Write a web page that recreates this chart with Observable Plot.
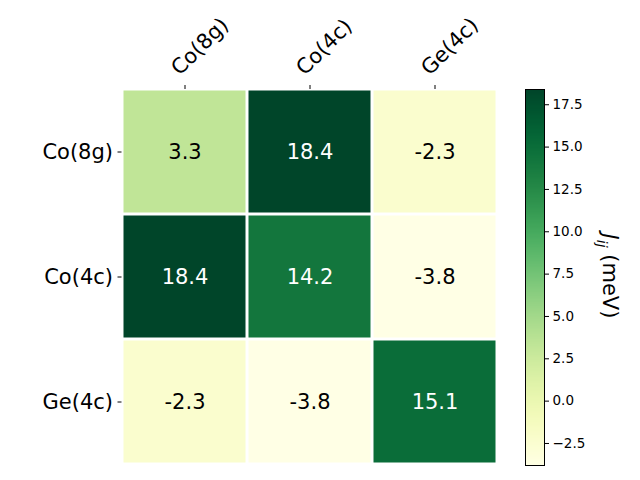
<!DOCTYPE html>
<html>
<head>
<meta charset="utf-8">
<script src="https://cdn.jsdelivr.net/npm/d3@7"></script>
<script src="https://cdn.jsdelivr.net/npm/@observablehq/plot@0.6"></script>
<style>
  html, body { margin: 0; padding: 0; background: white; }
  #wrap { position: relative; width: 640px; height: 480px; font-family: "DejaVu Sans", sans-serif; }
  #wrap svg { position: absolute; left: 0; top: 0; background: transparent; }
  #cblabel { position: absolute; left: 608px; top: 276px; transform: translate(-50%, -50%) rotate(90deg);
    font-size: 21px; white-space: nowrap; color: black; font-family: "DejaVu Sans", sans-serif; }
  #cblabel sub { font-size: 14px; }
</style>
</head>
<body>
<div id="wrap"></div>
<script>
const sites = ["Co(8g)", "Co(4c)", "Ge(4c)"];
const row0 = [3.3, 18.4, -2.3];
const row1 = [18.4, 14.2, -3.8];
const row2 = [-2.3, -3.8, 15.1];
const rows = [row0, row1, row2];
const colorTicks = [-2.5, 0.0, 2.5, 5.0, 7.5, 10.0, 12.5, 15.0, 17.5];

const vmin = d3.min(rows.flat()), vmax = d3.max(rows.flat());
const cells = [];
rows.forEach((r, i) => r.forEach((v, j) => cells.push({row: sites[i], col: sites[j], v})));

const colorScale = {type: "linear", scheme: "YlGn", domain: [vmin, vmax]};

const heat = Plot.plot({
  width: 640, height: 480,
  marginLeft: 121.5, marginRight: 142.5, marginTop: 88, marginBottom: 15,
  style: {fontFamily: "DejaVu Sans, sans-serif", background: "transparent"},
  x: {domain: sites, padding: 0, axis: null},
  y: {domain: sites, padding: 0, axis: null},
  color: colorScale,
  marks: [
    Plot.cell(cells, {x: "col", y: "row", fill: "v", inset: 1.5}),
    Plot.text(cells, {x: "col", y: "row", text: d => d.v.toFixed(1), fontSize: 21,
      fill: d => d.v > 10 ? "white" : "black"}),
    Plot.axisX({anchor: "top", tickSize: 4, tickFormat: () => "", label: null, color: "black"}),
    Plot.axisX({anchor: "top", tickSize: 0, tickPadding: 8, tickRotate: -45, fontSize: 21, label: null, color: "black", dx: -10, dy: -9}),
    Plot.axisY({anchor: "left", tickSize: 4, tickPadding: 5, fontSize: 21, label: null, color: "black"})
  ]
});

const cbar = Plot.plot({
  width: 640, height: 480,
  marginLeft: 525, marginRight: 96, marginTop: 89, marginBottom: 15,
  style: {fontFamily: "DejaVu Sans, sans-serif", background: "transparent"},
  x: {domain: [0, 1], axis: null},
  y: {domain: [vmin, vmax]},
  color: colorScale,
  marks: [
    Plot.raster({x1: 0, x2: 1, y1: vmin, y2: vmax, width: 1, height: 300, fill: (x, y) => y, imageRendering: "auto"}),
    Plot.frame({stroke: "black"}),
    Plot.axisY({anchor: "right", ticks: colorTicks, tickFormat: d3.format(".1f"), tickSize: 4, tickPadding: 4, fontSize: 13.5, label: null, color: "black"})
  ]
});

const wrap = document.getElementById("wrap");
wrap.appendChild(heat);
wrap.appendChild(cbar);
const lab = document.createElement("div");
lab.id = "cblabel";
lab.innerHTML = "<i>J</i><sub><i>ij</i></sub> (meV)";
wrap.appendChild(lab);
</script>
</body>
</html>
